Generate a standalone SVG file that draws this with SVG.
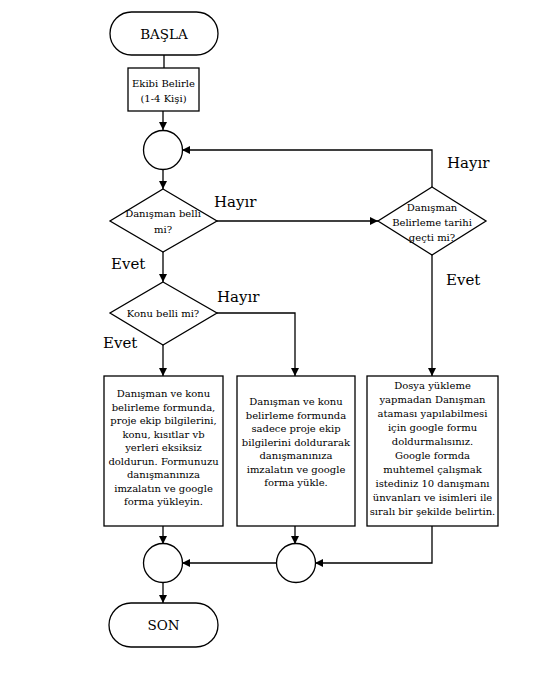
<svg xmlns="http://www.w3.org/2000/svg" width="554" height="674" viewBox="0 0 554 674">
<defs>
<marker id="arr" viewBox="0 0 10 10" refX="10" refY="5" markerWidth="8" markerHeight="8" markerUnits="userSpaceOnUse" orient="auto">
<path d="M0,0 L10,5 L0,10 z" fill="#000"/>
</marker>
</defs>
<style>
.s{fill:#fff;stroke:#000;stroke-width:1.3}
.c{fill:none;stroke:#000;stroke-width:1.3}
text{font-family:'DejaVu Serif',serif;fill:#000}
.t{font-size:10px;text-anchor:middle}
.big{font-size:13.5px}
.lbl{font-size:15px}
</style>
<rect width="554" height="674" fill="#fff"/>
<g id="connectors">
<path class="c" d="M164,55 V68"/>
<path class="c" d="M163,111 V130" marker-end="url(#arr)"/>
<path class="c" d="M163,170 V189" marker-end="url(#arr)"/>
<path class="c" d="M163,252 V282" marker-end="url(#arr)"/>
<path class="c" d="M217,221 H378" marker-end="url(#arr)"/>
<path class="c" d="M432,187 V150 H182" marker-end="url(#arr)"/>
<path class="c" d="M163,345 V376" marker-end="url(#arr)"/>
<path class="c" d="M217,313 H295 V376" marker-end="url(#arr)"/>
<path class="c" d="M432,255 V376" marker-end="url(#arr)"/>
<path class="c" d="M163,526 V544" marker-end="url(#arr)"/>
<path class="c" d="M295,526 V544" marker-end="url(#arr)"/>
<path class="c" d="M432,526 V563 H315" marker-end="url(#arr)"/>
<path class="c" d="M277,563 H182" marker-end="url(#arr)"/>
<path class="c" d="M163,582 V603" marker-end="url(#arr)"/>
</g>
<g id="labels">
<text class="lbl" x="214" y="207">Hayır</text>
<text class="lbl" x="111" y="269">Evet</text>
<text class="lbl" x="217" y="302">Hayır</text>
<text class="lbl" x="103" y="348">Evet</text>
<text class="lbl" x="447" y="168">Hayır</text>
<text class="lbl" x="446" y="285">Evet</text>
</g>
<g id="start">
<rect class="s" x="110" y="12" width="108" height="43" rx="21.5"/>
<text class="t big" x="164" y="39">BAŞLA</text>
</g>
<g id="team">
<rect class="s" x="128" y="68" width="71" height="43"/>
<text class="t" x="163.5" y="87">Ekibi Belirle</text>
<text class="t" x="163.5" y="102">(1-4 Kişi)</text>
</g>
<g id="join1">
<circle class="s" cx="163" cy="150" r="19.5"/>
</g>
<g id="dec1">
<polygon class="s" points="163,189 217,221 163,252 110,221"/>
<text class="t" x="163" y="216.5">Danışman belli</text>
<text class="t" x="163" y="232.5">mi?</text>
</g>
<g id="dec2">
<polygon class="s" points="163,282 217,313 163,345 110,313"/>
<text class="t" x="163" y="316.5">Konu belli mi?</text>
</g>
<g id="dec3">
<polygon class="s" points="432,187 486,221 432,255 378,221"/>
<text class="t" x="432" y="210.5">Danışman</text>
<text class="t" x="432" y="225.5">Belirleme tarihi</text>
<text class="t" x="432" y="240.5">geçti mi?</text>
</g>
<g id="box1">
<rect class="s" x="104" y="376" width="119" height="150"/>
<text class="t" x="163.5" y="397">Danışman ve konu</text>
<text class="t" x="163.5" y="410.5">belirleme formunda,</text>
<text class="t" x="163.5" y="424">proje ekip bilgilerini,</text>
<text class="t" x="163.5" y="437.5">konu, kısıtlar vb</text>
<text class="t" x="163.5" y="451">yerleri eksiksiz</text>
<text class="t" x="163.5" y="464.5">doldurun. Formunuzu</text>
<text class="t" x="163.5" y="478">danışmanınıza</text>
<text class="t" x="163.5" y="491.5">imzalatın ve google</text>
<text class="t" x="163.5" y="505">forma yükleyin.</text>
</g>
<g id="box2">
<rect class="s" x="237" y="376" width="118" height="150"/>
<text class="t" x="296" y="405">Danışman ve konu</text>
<text class="t" x="296" y="418.5">belirleme formunda</text>
<text class="t" x="296" y="432">sadece proje ekip</text>
<text class="t" x="296" y="445.5">bilgilerini doldurarak</text>
<text class="t" x="296" y="459">danışmanınıza</text>
<text class="t" x="296" y="472.5">imzalatın ve google</text>
<text class="t" x="296" y="486">forma yükle.</text>
</g>
<g id="box3">
<rect class="s" x="367" y="376" width="131" height="150"/>
<text class="t" x="432.5" y="389">Dosya yükleme</text>
<text class="t" x="432.5" y="403">yapmadan Danışman</text>
<text class="t" x="432.5" y="417">ataması yapılabilmesi</text>
<text class="t" x="432.5" y="431">için google formu</text>
<text class="t" x="432.5" y="445">doldurmalısınız.</text>
<text class="t" x="432.5" y="459">Google formda</text>
<text class="t" x="432.5" y="473">muhtemel çalışmak</text>
<text class="t" x="432.5" y="487">istediniz 10 danışmanı</text>
<text class="t" x="432.5" y="501">ünvanları ve isimleri ile</text>
<text class="t" x="432.5" y="515">sıralı bir şekilde belirtin.</text>
</g>
<g id="join2">
<circle class="s" cx="163" cy="563" r="19.5"/>
</g>
<g id="join3">
<circle class="s" cx="296" cy="563" r="19.5"/>
</g>
<g id="end">
<rect class="s" x="109" y="603" width="109" height="44" rx="22"/>
<text class="t big" x="163.5" y="630">SON</text>
</g>
</svg>
